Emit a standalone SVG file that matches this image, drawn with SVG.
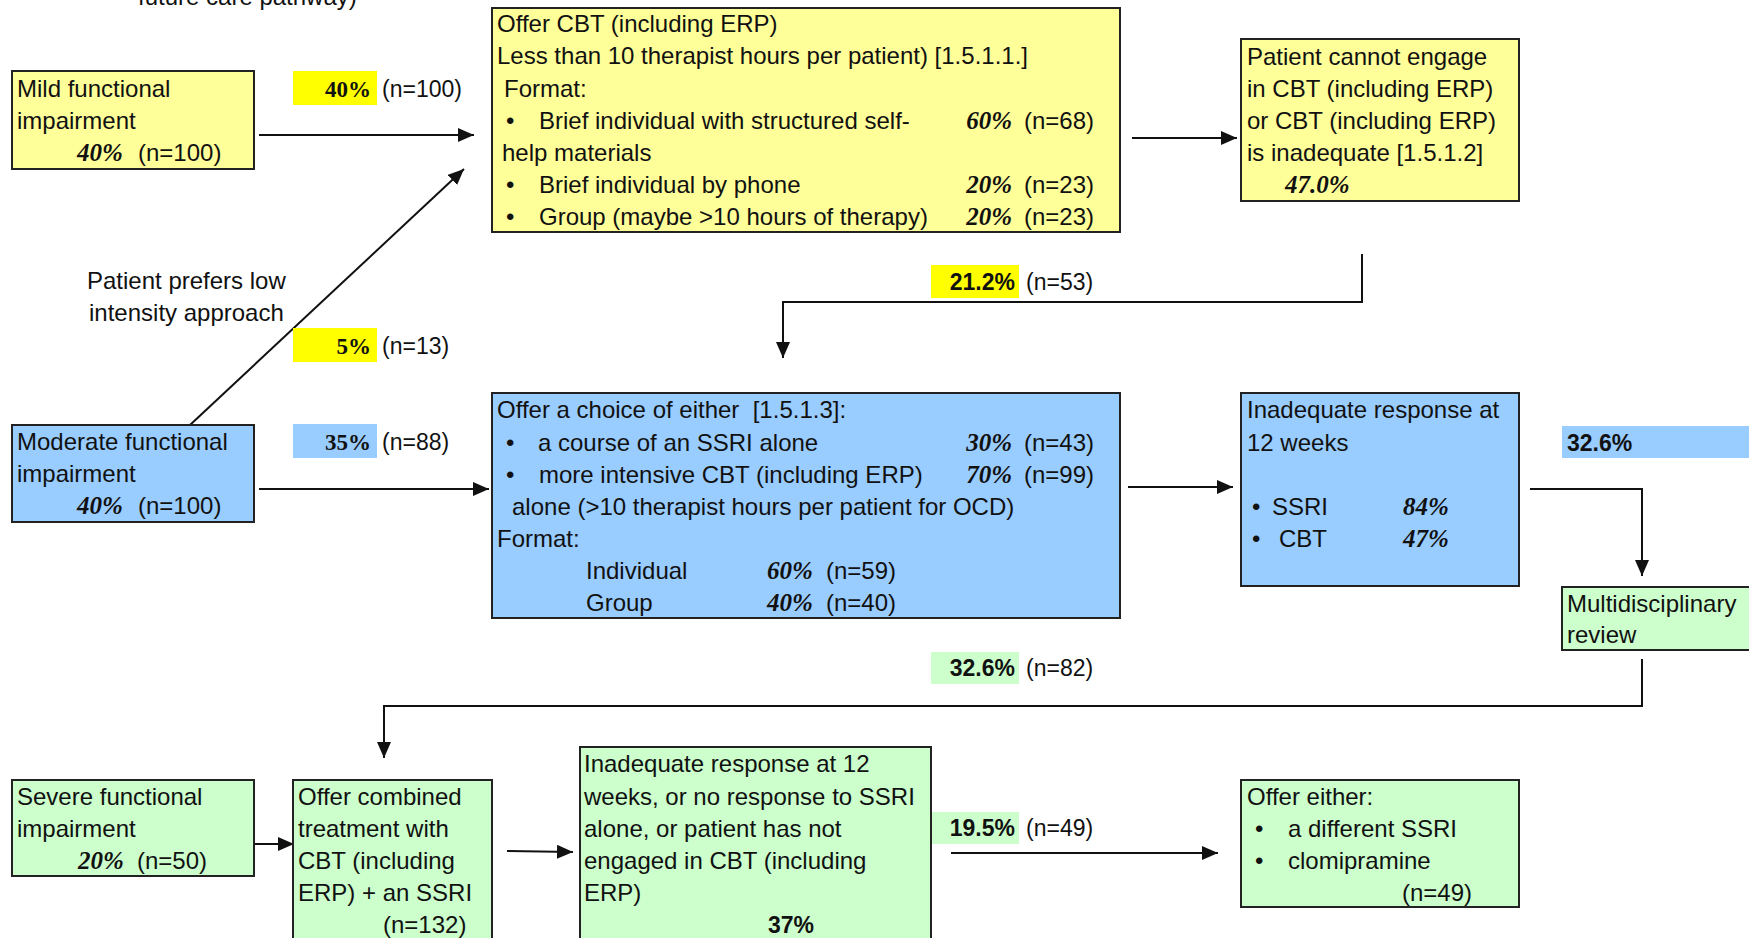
<svg xmlns="http://www.w3.org/2000/svg" width="1749" height="938" viewBox="0 0 1749 938">
<defs>
<style>
.t{font-family:"Liberation Sans",Arial,sans-serif;font-size:24px;fill:#111;white-space:pre}
.bi{font-family:"Liberation Serif","Times New Roman",serif;font-size:25px;font-weight:bold;font-style:italic;fill:#111}
.bs{font-family:"Liberation Serif","Times New Roman",serif;font-size:23px;font-weight:bold;fill:#111}
.bsans{font-family:"Liberation Sans",Arial,sans-serif;font-size:23px;font-weight:bold;fill:#111}
.n{font-family:"Liberation Sans",Arial,sans-serif;font-size:23px;fill:#111}
.box{stroke:#222;stroke-width:2}
.y{fill:#FFFF99}.b{fill:#99CCFF}.g{fill:#CCFFCC}
.c{fill:none;stroke:#111;stroke-width:2}
</style>
<marker id="ah" markerUnits="userSpaceOnUse" markerWidth="16" markerHeight="14" refX="16" refY="7" orient="auto"><path d="M0,0 L16,7 L0,14 z" fill="#111"/></marker>
</defs>
<rect width="1749" height="938" fill="#fff"/>
<text class="t" x="138" y="5">future care pathway)</text>

<g id="connectors">
<line class="c" x1="259" y1="135" x2="474" y2="135" marker-end="url(#ah)"/>
<line class="c" x1="190" y1="425" x2="464" y2="169" marker-end="url(#ah)"/>
<line class="c" x1="259" y1="489" x2="489" y2="489" marker-end="url(#ah)"/>
<line class="c" x1="1132" y1="138" x2="1237" y2="138" marker-end="url(#ah)"/>
<polyline class="c" points="1362,254 1362,302 783,302 783,358" marker-end="url(#ah)"/>
<line class="c" x1="1128" y1="487" x2="1233" y2="487" marker-end="url(#ah)"/>
<polyline class="c" points="1530,489 1642,489 1642,576" marker-end="url(#ah)"/>
<polyline class="c" points="1642,659 1642,706 384,706 384,758" marker-end="url(#ah)"/>
<line class="c" x1="248" y1="844" x2="294" y2="844" marker-end="url(#ah)"/>
<line class="c" x1="507" y1="851" x2="573" y2="852" marker-end="url(#ah)"/>
<line class="c" x1="951" y1="853" x2="1218" y2="853" marker-end="url(#ah)"/>
</g>

<g id="label-mild">
<rect x="293" y="71" width="84" height="34" fill="#FFFF00"/>
<text class="bs" x="371" y="97" text-anchor="end">40%</text>
<text class="n" x="382" y="97">(n=100)</text>
</g>
<g id="label-prefers">
<text class="t" x="87" y="289">Patient prefers low</text>
<text class="t" x="89" y="321">intensity approach</text>
</g>
<g id="label-5">
<rect x="293" y="328" width="84" height="34" fill="#FFFF00"/>
<text class="bs" x="371" y="354" text-anchor="end">5%</text>
<text class="n" x="382" y="354">(n=13)</text>
</g>
<g id="label-35">
<rect x="293" y="424" width="84" height="34" fill="#99CCFF"/>
<text class="bs" x="371" y="450" text-anchor="end">35%</text>
<text class="n" x="382" y="450">(n=88)</text>
</g>
<g id="label-21">
<rect x="931" y="265" width="88" height="33" fill="#FFFF00"/>
<text class="bsans" x="1015" y="290" text-anchor="end">21.2%</text>
<text class="n" x="1026" y="290">(n=53)</text>
</g>
<g id="label-32a">
<rect x="1562" y="426" width="187" height="32" fill="#99CCFF"/>
<text class="bsans" x="1567" y="451">32.6%</text>
</g>
<g id="label-32b">
<rect x="931" y="652" width="88" height="32" fill="#CCFFCC"/>
<text class="bsans" x="1015" y="676" text-anchor="end">32.6%</text>
<text class="n" x="1026" y="676">(n=82)</text>
</g>
<g id="label-19">
<rect x="931" y="812" width="88" height="32" fill="#CCFFCC"/>
<text class="bsans" x="1015" y="836" text-anchor="end">19.5%</text>
<text class="n" x="1026" y="836">(n=49)</text>
</g>

<g id="mild">
<rect class="box y" x="12" y="71" width="242" height="98"/>
<text class="t" x="17" y="97">Mild functional</text>
<text class="t" x="17" y="129">impairment</text>
<text class="bi" x="77" y="161">40%</text>
<text class="t" x="138" y="161">(n=100)</text>
</g>

<g id="moderate">
<rect class="box b" x="12" y="425" width="242" height="97"/>
<text class="t" x="17" y="450">Moderate functional</text>
<text class="t" x="17" y="482">impairment</text>
<text class="bi" x="77" y="514">40%</text>
<text class="t" x="138" y="514">(n=100)</text>
</g>

<g id="severe">
<rect class="box g" x="12" y="780" width="242" height="96"/>
<text class="t" x="17" y="805">Severe functional</text>
<text class="t" x="17" y="837">impairment</text>
<text class="bi" x="78" y="869">20%</text>
<text class="t" x="137" y="869">(n=50)</text>
</g>

<g id="offer-cbt">
<rect class="box y" x="492" y="8" width="628" height="224"/>
<text class="t" x="497" y="32">Offer CBT (including ERP)</text>
<text class="t" x="497" y="64">Less than 10 therapist hours per patient) [1.5.1.1.]</text>
<text class="t" x="504" y="97">Format:</text>
<text class="t" x="506" y="129">•</text>
<text class="t" x="539" y="129">Brief individual with structured self-</text>
<text class="bi" x="1012" y="129" text-anchor="end">60%</text>
<text class="t" x="1024" y="129">(n=68)</text>
<text class="t" x="502" y="161">help materials</text>
<text class="t" x="506" y="193">•</text>
<text class="t" x="539" y="193">Brief individual by phone</text>
<text class="bi" x="1012" y="193" text-anchor="end">20%</text>
<text class="t" x="1024" y="193">(n=23)</text>
<text class="t" x="506" y="225">•</text>
<text class="t" x="539" y="225">Group (maybe &gt;10 hours of therapy)</text>
<text class="bi" x="1012" y="225" text-anchor="end">20%</text>
<text class="t" x="1024" y="225">(n=23)</text>
</g>

<g id="cannot-engage">
<rect class="box y" x="1241" y="39" width="278" height="162"/>
<text class="t" x="1247" y="65">Patient cannot engage</text>
<text class="t" x="1247" y="97">in CBT (including ERP)</text>
<text class="t" x="1247" y="129">or CBT (including ERP)</text>
<text class="t" x="1247" y="161">is inadequate [1.5.1.2]</text>
<text class="bi" x="1285" y="193">47.0%</text>
</g>

<g id="offer-choice">
<rect class="box b" x="492" y="393" width="628" height="225"/>
<text class="t" x="497" y="418">Offer a choice of either  [1.5.1.3]:</text>
<text class="t" x="506" y="451">•</text>
<text class="t" x="538" y="451">a course of an SSRI alone</text>
<text class="bi" x="1012" y="451" text-anchor="end">30%</text>
<text class="t" x="1024" y="451">(n=43)</text>
<text class="t" x="506" y="483">•</text>
<text class="t" x="539" y="483">more intensive CBT (including ERP)</text>
<text class="bi" x="1012" y="483" text-anchor="end">70%</text>
<text class="t" x="1024" y="483">(n=99)</text>
<text class="t" x="512" y="515">alone (&gt;10 therapist hours per patient for OCD)</text>
<text class="t" x="497" y="547">Format:</text>
<text class="t" x="586" y="579">Individual</text>
<text class="bi" x="767" y="579">60%</text>
<text class="t" x="826" y="579">(n=59)</text>
<text class="t" x="586" y="611">Group</text>
<text class="bi" x="767" y="611">40%</text>
<text class="t" x="826" y="611">(n=40)</text>
</g>

<g id="inadequate-12">
<rect class="box b" x="1241" y="393" width="278" height="193"/>
<text class="t" x="1247" y="418">Inadequate response at</text>
<text class="t" x="1247" y="451">12 weeks</text>
<text class="t" x="1252" y="515">•</text>
<text class="t" x="1272" y="515">SSRI</text>
<text class="bi" x="1403" y="515">84%</text>
<text class="t" x="1252" y="547">•</text>
<text class="t" x="1279" y="547">CBT</text>
<text class="bi" x="1403" y="547">47%</text>
</g>

<g id="multidisciplinary">
<rect class="box g" x="1562" y="587" width="200" height="63"/>
<text class="t" x="1567" y="612">Multidisciplinary</text>
<text class="t" x="1567" y="643">review</text>
</g>

<g id="combined">
<rect class="box g" x="293" y="780" width="199" height="170"/>
<text class="t" x="298" y="805">Offer combined</text>
<text class="t" x="298" y="837">treatment with</text>
<text class="t" x="298" y="869">CBT (including</text>
<text class="t" x="298" y="901">ERP) + an SSRI</text>
<text class="t" x="383" y="933">(n=132)</text>
</g>

<g id="inadequate-severe">
<rect class="box g" x="580" y="747" width="351" height="203"/>
<text class="t" x="584" y="772">Inadequate response at 12</text>
<text class="t" x="584" y="805">weeks, or no response to SSRI</text>
<text class="t" x="584" y="837">alone, or patient has not</text>
<text class="t" x="584" y="869">engaged in CBT (including</text>
<text class="t" x="584" y="901">ERP)</text>
<text class="bsans" x="768" y="933">37%</text>
</g>

<g id="offer-either">
<rect class="box g" x="1241" y="780" width="278" height="127"/>
<text class="t" x="1247" y="805">Offer either:</text>
<text class="t" x="1255" y="837">•</text>
<text class="t" x="1288" y="837">a different SSRI</text>
<text class="t" x="1255" y="869">•</text>
<text class="t" x="1288" y="869">clomipramine</text>
<text class="t" x="1402" y="901">(n=49)</text>
</g>
</svg>
